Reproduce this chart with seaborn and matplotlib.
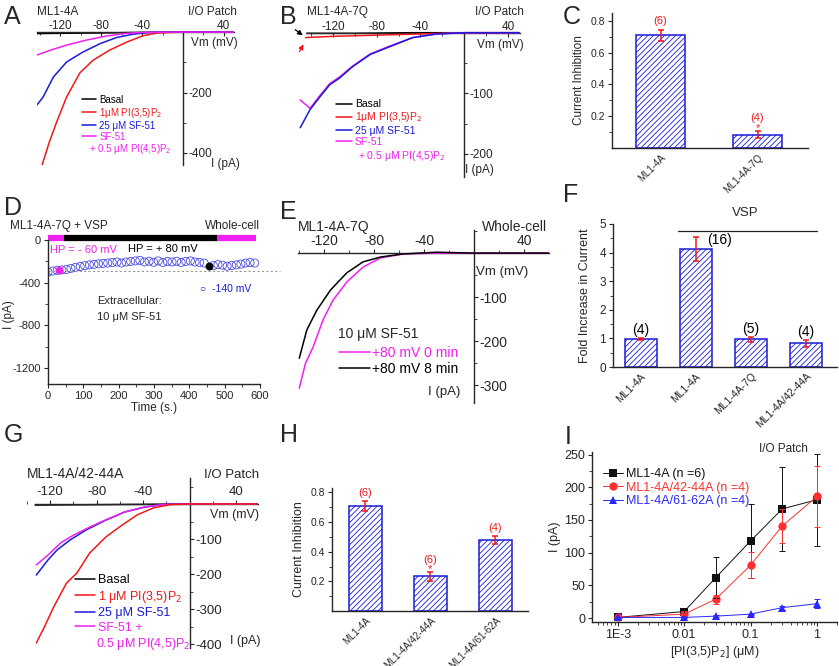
import numpy as np
import pandas as pd
import matplotlib.pyplot as plt
import seaborn as sns

sns.set_style('ticks')
plt.rcParams['font.family'] = ['Liberation Sans', 'DejaVu Sans']
plt.rcParams['axes.unicode_minus'] = False
plt.rcParams['hatch.linewidth'] = 0.6
plt.rcParams['hatch.color'] = '#2323d8'
plt.rcParams['axes.linewidth'] = 1.0

MAG = '#f020f0'
RED = '#f01818'
BLUE = '#1a1ad8'
BLK = '#000000'

# ---------------- A: ML1-4A, I/O patch (mV, pA) ----------------
a_basal_v = [-143, -120, -80, -40, 0, 50]
a_basal_i = [-5, -4, -3, -1, 0, 0]
a_pi35_v = [-138, -131, -124, -114, -101, -88, -72, -55, -39, -25, 0, 50]
a_pi35_i = [-440, -365, -300, -215, -135, -93, -60, -33, -12, -3, 0, 0]
a_sf51_v = [-143, -137, -127, -114, -98, -81, -65, -49, -32, 0, 50]
a_sf51_i = [-241, -215, -149, -99, -66, -38, -18, -7, -1, 0, 0]
a_pi45_v = [-143, -130, -114, -94, -75, -55, -39, 0, 50]
a_pi45_i = [-76, -60, -43, -26, -13, -4, -1, 0, 0]

# ---------------- B: ML1-4A-7Q, I/O patch ----------------
b_basal_v = [-144, -100, -50, 0, 50]
b_basal_i = [-1, -1, 0, 0, 0]
b_pi35_v = [-145, -120, -80, -40, 0, 50]
b_pi35_i = [-8, -6, -4, -2, 0, 0]
b_sf51_v = [-150, -141, -132, -123, -114, -102, -86, -68, -47, -25, 0, 50]
b_sf51_i = [-157, -127, -106, -86, -75, -56, -36, -23, -8, -2, 0, 0]
b_pi45_v = [-150, -141, -132, -123, -114, -102, -86, -68, -47, -25, 0, 50]
b_pi45_i = [-111, -125, -104, -84, -73, -55, -35, -22, -8, -2, 0, 0]

# ---------------- C: current inhibition ----------------
c_names = ['ML1-4A', 'ML1-4A-7Q']
c_vals = [0.71, 0.085]
c_err = [0.035, 0.025]
c_n = ['(6)', '(4)']

# ---------------- D: time course at -140 mV ----------------
d_time = [0, 13, 26, 39, 52, 65, 78, 91, 104, 117, 130, 143, 156, 169, 182,
          195, 208, 221, 234, 247, 260, 273, 286, 299, 312, 325, 338, 351,
          364, 377, 390, 403, 416, 429, 442, 468, 481, 494, 507, 520, 533,
          546, 559, 572, 585]
d_curr = [-300, -290, -283, -280, -275, -265, -255, -248, -240, -232, -228,
          -222, -218, -215, -210, -205, -215, -205, -200, -195, -190, -205,
          -198, -208, -195, -210, -200, -205, -198, -210, -200, -195, -205,
          -210, -215, -240, -230, -235, -245, -238, -232, -225, -215, -210,
          -215]
d_sel_t = [31, 456]
d_sel_i = [-281, -244]

# ---------------- E: ML1-4A-7Q whole-cell ----------------
e_0min_v = [-140, -135, -129, -121, -113, -102, -89, -75, -57, -30, 0, 60]
e_0min_i = [-307, -250, -214, -152, -107, -66, -32, -11, -2, 0, 0, 0]
e_8min_v = [-140, -134, -126, -115, -102, -89, -75, -57, -30, 0, 60]
e_8min_i = [-239, -175, -130, -84, -45, -20, -9, -2, 2, 0, 0]

# ---------------- F: fold increase ----------------
f_keys = ['4A', '4A_vsp', '7Q_vsp', '4244_vsp']
f_labels = ['ML1-4A', 'ML1-4A', 'ML1-4A-7Q', 'ML1-4A/42-44A']
f_vals = [0.97, 4.12, 0.97, 0.83]
f_err = [0.04, 0.43, 0.08, 0.12]
f_n = ['(4)', '(16)', '(5)', '(4)']

# ---------------- G: ML1-4A/42-44A, I/O patch ----------------
g_basal_v = [-133, -80, -40, 0, 59]
g_basal_i = [-3, -2, -1, 0, 0]
g_pi35_v = [-132, -125, -117, -106, -97, -86, -72, -58, -45, -31, -17, 0, 59]
g_pi35_i = [-397, -351, -294, -226, -197, -140, -94, -60, -31, -11, -2, 0, 0]
g_sf51_v = [-132, -122, -114, -103, -89, -72, -56, -39, -22, 0, 59]
g_sf51_i = [-203, -160, -131, -103, -74, -46, -23, -9, -1, 0, 0]
g_pi45_v = [-132, -122, -111, -100, -86, -72, -56, -39, -22, 0, 59]
g_pi45_i = [-174, -146, -111, -89, -66, -45, -23, -9, -1, 0, 0]

# ---------------- H: current inhibition ----------------
h_names = ['ML1-4A', 'ML1-4A/42-44A', 'ML1-4A/61-62A']
h_vals = [0.71, 0.235, 0.48]
h_err = [0.035, 0.03, 0.025]
h_n = ['(6)', '(6)', '(4)']

# ---------------- I: dose response ----------------
i_conc = [0.001, 0.01, 0.03, 0.1, 0.3, 1]
i_wt = [1, 10, 62, 118, 167, 181]
i_wt_err = [1, 2, 32, 57, 64, 70]
i_4244 = [1, 6, 29, 81, 141, 186]
i_4244_err = [1, 2, 7, 20, 26, 47]
i_6162 = [1, 1, 3, 6, 16, 22]
i_6162_err = [1, 1, 1, 1, 3, 7]

W, H = 839, 666
fig = plt.figure(figsize=(W / 100, H / 100), dpi=100)


def add_ax(x0, y0, x1, y1):
    return fig.add_axes([x0 / W, 1 - y1 / H, (x1 - x0) / W, (y1 - y0) / H])


def txt(x, y, s, **kw):
    kw.setdefault('va', 'center')
    kw.setdefault('fontsize', 9)
    fig.text(x / W, 1 - y / H, s, **kw)


def iv_axes(ax, xlim, ylim, xbounds, ybounds, yticks, yminor, fs, xdir='out'):
    ax.set_xlim(xlim)
    ax.set_ylim(ylim)
    ax.spines['left'].set_visible(False)
    ax.spines['bottom'].set_visible(False)
    ax.spines['top'].set_position(('data', 0))
    ax.spines['right'].set_position(('data', 0))
    ax.spines['top'].set_bounds(*xbounds)
    ax.spines['right'].set_bounds(*ybounds)
    ax.xaxis.tick_top()
    ax.yaxis.tick_right()
    ax.set_xticks([-120, -80, -40, 40])
    ax.set_xticks([-140, -100, -60, -20, 20], minor=True)
    ax.set_yticks(yticks)
    ax.set_yticks(yminor, minor=True)
    ax.tick_params(labelsize=fs, length=3, width=0.8, pad=1)
    ax.tick_params(which='minor', length=2, width=0.6)
    if xdir == 'in':
        ax.tick_params(axis='x', which='both', direction='in', pad=0)
    ax.set_xlabel('')
    ax.set_ylabel('')
    ax.patch.set_visible(False)


def draw_traces(ax, traces, lw=1.1):
    for lab, v, i, c, z in traces:
        sns.lineplot(x=v, y=i, ax=ax, color=c, lw=lw, label=lab, sort=False,
                     estimator=None, zorder=z)


def bar_panel(ax, names, vals, err, width):
    sns.barplot(x=names, y=vals, ax=ax, width=width, color='white',
                saturation=1, edgecolor=BLUE, linewidth=1.1, hatch='//////',
                errorbar=None)
    ax.errorbar(range(len(vals)), vals, yerr=err, fmt='none', ecolor=RED,
                elinewidth=1.1, capsize=2.5, capthick=1.1)
    ax.spines['top'].set_visible(False)
    ax.spines['right'].set_visible(False)
    ax.tick_params(axis='x', length=0, pad=3)
    ax.set_xticks(range(len(vals)))
    ax.patch.set_visible(False)


# ================= A =================
axA = add_ax(37, 20, 234, 165)
draw_traces(axA, [
    ('Basal', a_basal_v, a_basal_i, BLK, 2),
    ('1μM PI(3,5)P$_2$', a_pi35_v, a_pi35_i, RED, 3),
    ('25 μM SF-51', a_sf51_v, a_sf51_i, BLUE, 4),
    ('SF-51', a_pi45_v, a_pi45_i, MAG, 5)])
iv_axes(axA, (-143, 50), (-440, 40), (-143, 50), (-440, 0),
        [-200, -400], [-100, -300], 8.5, xdir='in')
axA.legend(loc='upper left', bbox_to_anchor=(77 / W, 1 - 90 / H),
           bbox_transform=fig.transFigure, frameon=False, fontsize=7,
           handlelength=1.5, handletextpad=0.3, labelspacing=0.1,
           labelcolor=[BLK, RED, BLUE, MAG], borderpad=0)
txt(89, 149, '+ 0.5 μM PI(4,5)P$_2$', color=MAG, fontsize=7)
txt(4, 17, 'A', fontsize=18)
txt(37, 12, 'ML1-4A', fontsize=8.5)
txt(237, 12, 'I/O Patch', ha='right', fontsize=8.5)
txt(238, 43, 'Vm (mV)', ha='right', fontsize=8.5)
txt(211, 164, 'I (pA)', fontsize=8.5)

# ================= B =================
axB = add_ax(298, 20, 520, 178)
draw_traces(axB, [
    ('Basal', b_basal_v, b_basal_i, BLK, 2),
    ('1μM PI(3,5)P$_2$', b_pi35_v, b_pi35_i, RED, 3),
    ('25 μM SF-51', b_sf51_v, b_sf51_i, BLUE, 5),
    ('SF-51', b_pi45_v, b_pi45_i, MAG, 4)])
iv_axes(axB, (-152, 51), (-240, 21), (-144, 51), (-238, 0),
        [-100, -200], [-50, -150], 8.5, xdir='in')
axB.legend(loc='upper left', bbox_to_anchor=(331 / W, 1 - 94 / H),
           bbox_transform=fig.transFigure, frameon=False, fontsize=7.5,
           handlelength=1.5, handletextpad=0.3, labelspacing=0.12,
           labelcolor=[BLK, RED, BLUE, MAG], borderpad=0)
txt(358, 156, '+ 0.5 μM PI(4,5)P$_2$', color=MAG, fontsize=7.5)
axB.annotate('', xy=(305 / W, 1 - 37 / H), xytext=(293 / W, 1 - 28 / H),
             xycoords='figure fraction', textcoords='figure fraction',
             arrowprops=dict(arrowstyle='-|>', color=BLK, lw=0.9,
                             mutation_scale=7))
axB.annotate('', xy=(305 / W, 1 - 42 / H), xytext=(298 / W, 1 - 54 / H),
             xycoords='figure fraction', textcoords='figure fraction',
             arrowprops=dict(arrowstyle='-|>', color=RED, lw=0.9,
                             mutation_scale=7))
txt(280, 17, 'B', fontsize=18)
txt(307, 12, 'ML1-4A-7Q', fontsize=8.5)
txt(524, 12, 'I/O Patch', ha='right', fontsize=8.5)
txt(524, 45, 'Vm (mV)', ha='right', fontsize=8.5)
txt(465, 170, 'I (pA)', fontsize=8.5)

# ================= C =================
axC = add_ax(612, 13, 808, 148)
bar_panel(axC, c_names, c_vals, c_err, 0.5)
axC.set_xlim(-0.5, 1.52)
axC.set_ylim(0, 0.85)
axC.set_yticks([0.2, 0.4, 0.6, 0.8])
axC.set_yticks([0.1, 0.3, 0.5, 0.7], minor=True)
axC.tick_params(axis='y', labelsize=7.5, length=3, pad=2)
axC.tick_params(axis='y', which='minor', length=2)
axC.set_xticklabels(c_names, rotation=45, ha='right', rotation_mode='anchor',
                    fontsize=7)
axC.set_ylabel('Current Inhibition', fontsize=8.5, labelpad=4)
axC.text(0, c_vals[0] + c_err[0] + 0.02, c_n[0], color=RED, fontsize=8,
         ha='center', va='bottom')
axC.text(1, c_vals[1] + c_err[1] + 0.045, c_n[1], color=RED, fontsize=8,
         ha='center', va='bottom')
axC.text(1, c_vals[1] + c_err[1] - 0.015, '*', color=RED, fontsize=8,
         ha='center', va='bottom')
txt(563, 17, 'C', fontsize=18)

# ================= D =================
axD = add_ax(48, 238, 260, 384)
sns.scatterplot(x=d_time, y=d_curr, ax=axD, marker='o', s=34,
                facecolor='none', edgecolor='#3c3ce6', linewidth=0.55)
sns.scatterplot(x=d_sel_t[:1], y=d_sel_i[:1], ax=axD, color=MAG, s=28,
                edgecolor=MAG, zorder=5)
sns.scatterplot(x=d_sel_t[1:], y=d_sel_i[1:], ax=axD, color=BLK, s=28,
                edgecolor=BLK, zorder=5)
axD.set_xlim(0, 600)
axD.set_ylim(-1350, 20)
axD.axhline(-290, xmin=0, xmax=1.095, color='#999999', lw=0.8,
            ls=(0, (2, 2)), clip_on=False, zorder=1)
axD.hlines(20, 0, 45, color=MAG, lw=4.5, clip_on=False)
axD.hlines(20, 45, 478, color=BLK, lw=4.5, clip_on=False)
axD.hlines(20, 478, 590, color=MAG, lw=4.5, clip_on=False)
axD.spines['top'].set_visible(False)
axD.spines['right'].set_visible(False)
axD.spines['left'].set_bounds(-1350, 0)
axD.set_xticks(range(0, 601, 100))
axD.set_xticks(range(50, 600, 100), minor=True)
axD.set_yticks([0, -400, -800, -1200])
axD.set_yticks([-200, -600, -1000], minor=True)
axD.tick_params(labelsize=8, length=3, pad=2)
axD.tick_params(which='minor', length=2)
axD.set_xlabel('Time (s.)', fontsize=8.5, labelpad=1)
axD.set_ylabel('')
axD.patch.set_visible(False)
txt(9, 315, 'I (pA)', fontsize=8.5, rotation=90, ha='center')
txt(4, 208, 'D', fontsize=18)
txt(10, 226, 'ML1-4A-7Q + VSP', fontsize=8.5)
txt(260, 226, 'Whole-cell', ha='right', fontsize=8.5)
txt(50, 250, 'HP = - 60 mV', color=MAG, fontsize=8)
txt(128, 249, 'HP = + 80 mV', color=BLK, fontsize=8)
txt(200, 289, '○  -140 mV', color=BLUE, fontsize=7.5)
txt(97, 301, 'Extracellular:', fontsize=8)
txt(97, 317, '10 μM SF-51', fontsize=8)

# ================= E =================
axE = add_ax(298, 228, 549, 405)
draw_traces(axE, [
    ('+80 mV 0 min', e_0min_v, e_0min_i, MAG, 3),
    ('+80 mV 8 min', e_8min_v, e_8min_i, BLK, 4)])
iv_axes(axE, (-141, 60), (-345, 57), (-141, 60), (-340, 52),
        [-100, -200, -300], [50, -50, -150, -250], 10)
axE.legend(loc='upper left', bbox_to_anchor=(332 / W, 1 - 339 / H),
           bbox_transform=fig.transFigure, frameon=False, fontsize=10,
           handlelength=2.2, handletextpad=0.2, labelspacing=0.15,
           labelcolor=[MAG, BLK], borderpad=0)
txt(280, 212, 'E', fontsize=18)
txt(298, 227, 'ML1-4A-7Q', fontsize=10)
txt(482, 227, 'Whole-cell', fontsize=10)
txt(476, 272, 'Vm (mV)', fontsize=9.5)
txt(338, 334, '10 μM SF-51', fontsize=10)
txt(428, 392, 'I (pA)', fontsize=9.5)

# ================= F =================
axF = add_ax(613, 224, 837, 367)
bar_panel(axF, f_keys, f_vals, f_err, 0.58)
axF.set_xlim(-0.5, 3.56)
axF.set_ylim(0, 5)
axF.set_yticks(range(0, 6))
axF.set_yticks(np.arange(0.5, 5, 1), minor=True)
axF.tick_params(axis='y', labelsize=8.5, length=3, pad=2)
axF.tick_params(axis='y', which='minor', length=2)
axF.set_xticklabels(f_labels, rotation=45, ha='right', rotation_mode='anchor',
                    fontsize=7.5)
axF.set_ylabel('Fold Increase in Current', fontsize=9, labelpad=6)
for k in [0, 2, 3]:
    axF.text(k, f_vals[k] + f_err[k] + 0.03, f_n[k], color=BLK, fontsize=10,
             ha='center', va='bottom')
axF.text(1.2, f_vals[1] + f_err[1] - 0.12, f_n[1], color=BLK, fontsize=10,
         ha='left', va='center')
axF.plot([1 - 0.32, 3 + 0.2], [4.77, 4.77], color='#222222', lw=0.9,
         clip_on=False)
txt(745, 213, 'VSP', ha='center', fontsize=9.5)
txt(563, 195, 'F', fontsize=18)

# ================= G =================
axG = add_ax(27, 476, 258, 650)
draw_traces(axG, [
    ('Basal', g_basal_v, g_basal_i, BLK, 2),
    ('1 μM PI(3,5)P$_2$', g_pi35_v, g_pi35_i, RED, 5),
    ('25 μM SF-51', g_sf51_v, g_sf51_i, BLUE, 3),
    ('SF-51 +', g_pi45_v, g_pi45_i, MAG, 4)])
iv_axes(axG, (-133, 59), (-417, 80), (-133, 59), (-410, 74),
        [-100, -200, -300, -400], [50, -50, -150, -250, -350], 9.5)
axG.legend(loc='upper left', bbox_to_anchor=(69 / W, 1 - 568 / H),
           bbox_transform=fig.transFigure, frameon=False, fontsize=9,
           handlelength=1.6, handletextpad=0.2, labelspacing=0.2,
           labelcolor=[BLK, RED, BLUE, MAG], borderpad=0)
txt(96, 644, '0.5 μM PI(4,5)P$_2$', color=MAG, fontsize=9)
txt(4, 435, 'G', fontsize=18)
txt(27, 474, 'ML1-4A/42-44A', fontsize=10)
txt(259, 475, 'I/O Patch', ha='right', fontsize=9.5)
txt(259, 515, 'Vm (mV)', ha='right', fontsize=9)
txt(230, 641, 'I (pA)', fontsize=9)

# ================= H =================
axH = add_ax(332, 488, 528, 611)
bar_panel(axH, h_names, h_vals, h_err, 0.51)
axH.set_xlim(-0.51, 2.5)
axH.set_ylim(0, 0.83)
axH.set_yticks([0.2, 0.4, 0.6, 0.8])
axH.set_yticks([0.1, 0.3, 0.5, 0.7], minor=True)
axH.tick_params(axis='y', labelsize=7.5, length=3, pad=2)
axH.tick_params(axis='y', which='minor', length=2)
axH.set_xticklabels(h_names, rotation=45, ha='right', rotation_mode='anchor',
                    fontsize=7)
axH.set_ylabel('Current Inhibition', fontsize=9, labelpad=4)
for k in [0, 2]:
    axH.text(k, h_vals[k] + h_err[k] + 0.02, h_n[k], color=RED, fontsize=8,
             ha='center', va='bottom')
axH.text(1, h_vals[1] + h_err[1] + 0.045, h_n[1], color=RED, fontsize=8,
         ha='center', va='bottom')
axH.text(1, h_vals[1] + h_err[1] - 0.015, '*', color=RED, fontsize=8,
         ha='center', va='bottom')
txt(280, 435, 'H', fontsize=18)

# ================= I =================
axI = add_ax(592, 452, 837, 622)
dose = pd.DataFrame({
    'conc': i_conc * 3,
    'I': i_wt + i_4244 + i_6162,
    'construct': (['ML1-4A (n =6)'] * 6 + ['ML1-4A/42-44A (n =4)'] * 6
                  + ['ML1-4A/61-62A (n =4)'] * 6),
})
sns.lineplot(data=dose, x='conc', y='I', hue='construct', style='construct',
             markers=['s', 'o', '^'], dashes=False,
             palette=['#111111', '#ff3030', '#2828ff'], ax=axI, lw=0.7,
             markersize=6, markeredgewidth=0, estimator=None)
for vals, errs, c in [(i_wt, i_wt_err, '#111111'), (i_4244, i_4244_err, '#ff3030'),
                      (i_6162, i_6162_err, '#2828ff')]:
    axI.errorbar(i_conc, vals, yerr=errs, fmt='none', ecolor=c, elinewidth=0.7,
                 capsize=2.5, capthick=0.7)
axI.set_xscale('log')
axI.set_xlim(4.1e-4, 2.0)
axI.set_ylim(-6, 254)
axI.set_xticks([0.001, 0.01, 0.1, 1])
axI.set_xticklabels(['1E-3', '0.01', '0.1', '1'])
axI.set_yticks(range(0, 251, 50))
axI.set_yticks(range(25, 250, 50), minor=True)
axI.tick_params(labelsize=9, length=3, pad=2)
axI.tick_params(which='minor', length=2)
axI.spines['top'].set_visible(False)
axI.spines['right'].set_visible(False)
axI.set_xlabel('[PI(3,5)P$_2$] (μM)', fontsize=9, labelpad=2)
axI.set_ylabel('I (pA)', fontsize=9, labelpad=2)
hd, lb = axI.get_legend_handles_labels()
axI.legend(hd, lb, loc='upper left', bbox_to_anchor=(597 / W, 1 - 462 / H),
           bbox_transform=fig.transFigure, frameon=False, fontsize=9,
           handlelength=1.6, handletextpad=0.2, labelspacing=0.12,
           labelcolor=['#111111', '#ff3030', '#2828ff'], borderpad=0)
txt(808, 449, 'I/O Patch', ha='right', fontsize=8.5)
txt(565, 437, 'I', fontsize=18)

fig.savefig('out.png', dpi=100)
